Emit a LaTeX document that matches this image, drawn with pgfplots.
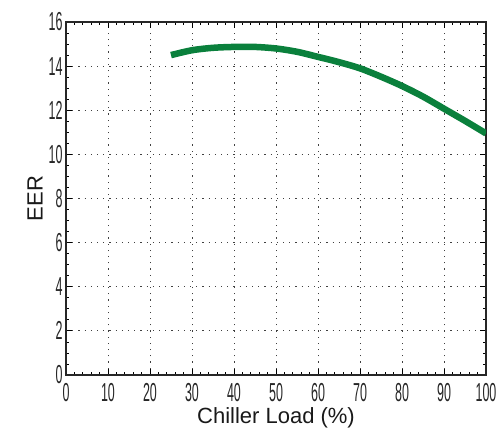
\documentclass[border=0pt]{standalone}
\usepackage{fontspec}
\setmainfont{Liberation Sans}
\newfontfamily\narrowfont[FakeStretch=0.48]{Liberation Sans}
\usepackage{pgfplots}
\pgfplotsset{compat=1.18}
\definecolor{eergreen}{RGB}{10,128,60}
\begin{document}
\begin{tikzpicture}
\begin{axis}[
    scale only axis,
    width=420pt,
    height=353pt,
    xmin=0, xmax=100,
    ymin=0, ymax=16,
    xtick={0,10,...,100},
    ytick={0,2,...,16},
    minor x tick num=4,
    minor y tick num=3,
    tick align=inside,
    major tick length=6pt,
    minor tick length=3pt,
    tick style={black, line width=0.8pt},
    axis line style={line width=1.6pt, black!85},
    xmajorgrids=true,
    ymajorgrids=true,
    grid style={dash pattern=on 1.2pt off 5pt, black!75, line width=0.8pt},
    /pgf/number format/assume math mode=true,
    ticklabel style={font=\narrowfont\fontsize{26}{26}\selectfont, black!85},
    xticklabel style={yshift=-5pt},
    yticklabel style={xshift=0pt},
    xlabel={Chiller Load (\%)},
    ylabel={EER},
    label style={font=\fontsize{22}{22}\selectfont, black!90},
    xlabel style={yshift=1pt},
    ylabel style={yshift=-1pt},
]
\addplot[eergreen, line width=6.5pt, smooth] coordinates {
    (25,14.50) (30,14.72) (35,14.83) (40,14.87) (45,14.87)
    (50,14.80) (55,14.65) (60,14.42) (65,14.18) (70,13.90)
    (75,13.52) (80,13.10) (85,12.62) (90,12.07) (95,11.52) (100,10.95)
};
\end{axis}
\path ([shift={(-66pt,-62pt)}]current axis.south west) rectangle ([shift={(17pt,22pt)}]current axis.north east);
\end{tikzpicture}
\end{document}
